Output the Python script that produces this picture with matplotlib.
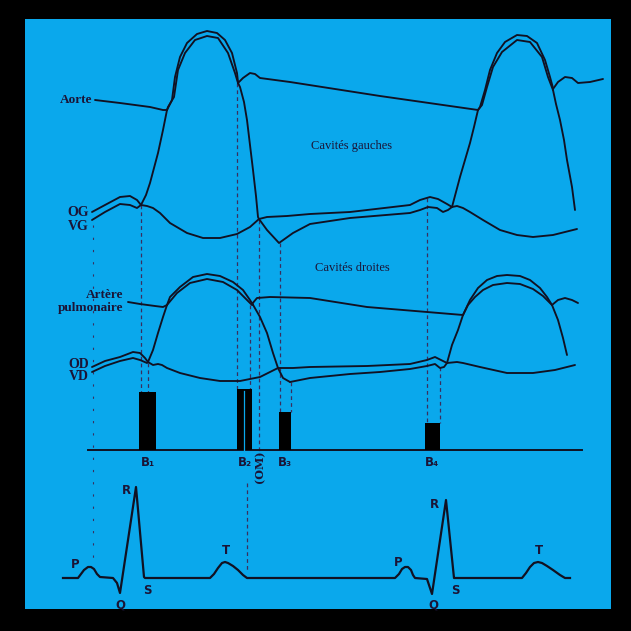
import matplotlib
matplotlib.use('Agg')
import matplotlib.pyplot as plt
from matplotlib.patches import Rectangle

# ---- traces, in picture coordinates (x right, y down) ----
# left heart
aorte_lead_x = [95, 120, 150, 163, 167]
aorte_lead_y = [100, 103, 107, 110, 110]
aorta1_outer_x = [167, 172, 175, 180, 187, 197, 207, 217, 225, 232, 237, 238]
aorta1_outer_y = [110, 100, 77, 57, 43, 34, 31, 33, 40, 53, 73, 82]
aorta1_inner_x = [167, 168, 174, 178, 185, 195, 207, 218, 228, 235, 238]
aorta1_inner_y = [110, 107, 97, 70, 53, 40, 36, 38, 53, 73, 83]
aorta_dia_x = [238, 243, 250, 255, 260, 290, 380, 478]
aorta_dia_y = [83, 78, 73, 74, 78, 82, 96, 110]
aorta2_outer_x = [478, 480, 485, 490, 497, 505, 517, 527, 537, 545, 550, 553]
aorta2_outer_y = [110, 107, 90, 70, 53, 42, 35, 36, 43, 60, 77, 88]
aorta2_inner_x = [478, 482, 487, 493, 502, 517, 530, 542, 548, 553]
aorta2_inner_y = [110, 105, 87, 67, 52, 40, 42, 57, 77, 90]
aorta2_tail_x = [553, 558, 565, 572, 578, 590, 603]
aorta2_tail_y = [89, 82, 77, 78, 83, 82, 79]

og_start_x = [92, 105, 120, 130, 137, 141]
og_start_y = [212, 205, 197, 196, 200, 205]
vg_start_x = [92, 105, 120, 130, 137, 141]
vg_start_y = [220, 212, 204, 205, 208, 205]
lv1_up_x = [141, 146, 150, 154, 158, 163, 167]
lv1_up_y = [205, 195, 183, 168, 153, 130, 110]
lv1_down_x = [238, 240, 244, 247, 250, 253, 256, 258, 259]
lv1_down_y = [83, 87, 102, 120, 145, 170, 196, 217, 219]
og1_x = [141, 147, 153, 160, 170, 187, 203, 220, 237, 250, 259]
og1_y = [205, 206, 208, 213, 223, 233, 238, 238, 234, 227, 219]
og_dia_x = [259, 267, 287, 310, 350, 410, 420, 430, 438, 447, 452]
og_dia_y = [219, 217, 216, 214, 212, 205, 200, 197, 199, 204, 207]
vg_dia_x = [259, 267, 279, 293, 310, 350, 410, 420, 428, 437, 443, 448, 452]
vg_dia_y = [219, 230, 243, 233, 224, 218, 213, 210, 207, 208, 212, 210, 207]
lv2_up_x = [452, 456, 460, 465, 470, 474, 478]
lv2_up_y = [207, 192, 177, 160, 143, 127, 110]
lv2_down_x = [553, 556, 560, 564, 567, 572, 575]
lv2_down_y = [90, 104, 120, 140, 160, 187, 210]
og2_x = [452, 457, 463, 470, 483, 500, 517, 533, 553, 577]
og2_y = [207, 206, 208, 212, 220, 230, 235, 237, 235, 229]

# right heart
pa_lead_x = [128, 140, 155, 163, 167]
pa_lead_y = [302, 304, 306, 307, 305]
pa1_outer_x = [167, 170, 180, 193, 207, 220, 233, 243, 250, 253]
pa1_outer_y = [305, 297, 287, 277, 274, 276, 282, 290, 300, 305]
pa1_inner_x = [167, 177, 190, 207, 223, 237, 247, 252]
pa1_inner_y = [305, 293, 283, 279, 282, 290, 300, 305]
pa_dia_x = [252, 257, 270, 310, 367, 463]
pa_dia_y = [304, 298, 297, 298, 307, 315]
pa2_outer_x = [463, 470, 478, 487, 497, 507, 520, 530, 540, 547, 552]
pa2_outer_y = [315, 300, 288, 280, 276, 275, 276, 280, 288, 297, 305]
pa2_inner_x = [463, 468, 475, 483, 493, 507, 520, 533, 543, 550, 552]
pa2_inner_y = [315, 305, 297, 290, 285, 283, 284, 289, 296, 303, 305]
pa2_tail_x = [552, 558, 565, 572, 578]
pa2_tail_y = [305, 300, 298, 300, 303]

od_start_x = [92, 105, 120, 133, 140, 145, 148]
od_start_y = [367, 361, 357, 352, 353, 358, 362]
vd_start_x = [92, 105, 120, 133, 140, 147, 148]
vd_start_y = [372, 366, 361, 358, 360, 363, 362]
rv1_up_x = [148, 153, 158, 163, 167]
rv1_up_y = [362, 350, 333, 317, 305]
rv1_down_x = [252, 260, 267, 273, 278, 283, 290]
rv1_down_y = [303, 317, 333, 353, 368, 378, 382]
od1_x = [148, 153, 158, 162, 167, 180, 200, 220, 240, 260, 278]
od1_y = [362, 365, 364, 365, 368, 373, 378, 381, 381, 377, 368]
od_dia_x = [278, 293, 310, 367, 410, 427, 435, 441, 447]
od_dia_y = [368, 368, 367, 366, 364, 360, 357, 360, 363]
vd_dia_x = [290, 300, 310, 350, 380, 410, 427, 435, 440, 444, 447]
vd_dia_y = [382, 380, 378, 374, 372, 369, 366, 364, 368, 367, 363]
rv2_up_x = [447, 452, 458, 463]
rv2_up_y = [363, 345, 330, 315]
rv2_down_x = [552, 558, 563, 567]
rv2_down_y = [305, 320, 338, 355]
od2_x = [447, 457, 463, 480, 507, 533, 555, 575]
od2_y = [363, 362, 363, 367, 373, 373, 370, 365]

# heart sounds (phonocardiogram bars)
sound_labels = ['B\u2081', 'B\u2082', 'B\u2083', 'B\u2084']
sound_left = [139, 237, 279, 425]
sound_right = [156, 252, 291, 440]
sound_top = [392, 389, 412, 423]
sound_base = 450
phono_x = [88, 582]

# ECG
ecg_x = [63, 78, 81, 84, 88, 91, 94, 97, 100, 113, 117, 120, 136, 144, 145,
         210, 214, 218, 222, 225, 228, 233, 238, 243, 247,
         395, 399, 402, 405, 408, 411, 413, 415, 427, 432, 446, 454, 455,
         522, 526, 530, 534, 538, 542, 547, 553, 560, 565, 570]
ecg_y = [578, 578, 574, 570, 567, 567, 569, 574, 577, 578, 583, 593, 487, 577, 578,
         578, 574, 568, 563, 562, 563, 566, 570, 575, 578,
         578, 574, 569, 567, 567, 570, 575, 578, 579, 594, 500, 578, 578,
         578, 573, 567, 563, 562, 563, 566, 570, 575, 578, 578]
ecg_labels = ['P', 'Q', 'R', 'S', 'T', 'P', 'Q', 'R', 'S', 'T']
ecg_label_x = [75, 120, 126, 147, 226, 398, 433, 434, 455, 539]
ecg_label_y = [565, 605, 490, 590, 550, 563, 605, 504, 591, 550]

# dashed timing lines: x, y start, y end
guide_x = [141, 148, 237, 250, 259, 280, 291, 427, 440, 247]
guide_y0 = [205, 363, 83, 305, 220, 243, 382, 198, 367, 483]
guide_y1 = [392, 392, 389, 389, 455, 412, 412, 423, 423, 572]

BLUE = '#0aa8ec'
INK = '#111122'
TXT = '#1b1436'

fig = plt.figure(figsize=(6.31, 6.31), dpi=100, facecolor='black')
ax = fig.add_axes([0, 0, 1, 1])
ax.set_xlim(0, 631)
ax.set_ylim(631, 0)
ax.axis('off')
ax.add_patch(Rectangle((25, 19), 586, 590, facecolor=BLUE, edgecolor='none', zorder=0))

traces = [
    (aorte_lead_x, aorte_lead_y), (aorta1_outer_x, aorta1_outer_y),
    (aorta1_inner_x, aorta1_inner_y), (aorta_dia_x, aorta_dia_y),
    (aorta2_outer_x, aorta2_outer_y), (aorta2_inner_x, aorta2_inner_y),
    (aorta2_tail_x, aorta2_tail_y), (og_start_x, og_start_y),
    (vg_start_x, vg_start_y), (lv1_up_x, lv1_up_y), (lv1_down_x, lv1_down_y),
    (og1_x, og1_y), (og_dia_x, og_dia_y), (vg_dia_x, vg_dia_y),
    (lv2_up_x, lv2_up_y), (lv2_down_x, lv2_down_y), (og2_x, og2_y),
    (pa_lead_x, pa_lead_y), (pa1_outer_x, pa1_outer_y), (pa1_inner_x, pa1_inner_y),
    (pa_dia_x, pa_dia_y), (pa2_outer_x, pa2_outer_y), (pa2_inner_x, pa2_inner_y),
    (pa2_tail_x, pa2_tail_y), (od_start_x, od_start_y), (vd_start_x, vd_start_y),
    (rv1_up_x, rv1_up_y), (rv1_down_x, rv1_down_y), (od1_x, od1_y),
    (od_dia_x, od_dia_y), (vd_dia_x, vd_dia_y), (rv2_up_x, rv2_up_y),
    (rv2_down_x, rv2_down_y), (od2_x, od2_y),
]
for xs, ys in traces:
    ax.plot(xs, ys, color=INK, lw=1.35, solid_capstyle='round',
            solid_joinstyle='round', zorder=3)

# timing guides
for gx, g0, g1 in zip(guide_x, guide_y0, guide_y1):
    ax.plot([gx, gx], [g0, g1], color='#3a2e5e', lw=0.9, dashes=(3, 2.5), zorder=2)
ax.plot([93, 93], [225, 565], color='#3a2e5e', lw=0.8, dashes=(2, 9), zorder=2)

# phonocardiogram
ax.plot(phono_x, [sound_base, sound_base], color=INK, lw=1.4, zorder=3)
heights = [t - sound_base for t in sound_top]
widths = [r - l for l, r in zip(sound_left, sound_right)]
ax.bar(sound_left, heights, width=widths, bottom=sound_base, align='edge',
       color='black', edgecolor='none', zorder=4)
ax.plot([244, 244], [391, 450], color=BLUE, lw=0.9, zorder=5)
for lab, l, r in zip(sound_labels, sound_left, sound_right):
    ax.text((l + r) / 2, 462, lab, ha='center', va='center', fontsize=8.5,
            color=TXT, fontweight='bold', family='DejaVu Sans')
ax.text(260, 467, '(OM)', rotation=90, ha='center', va='center', fontsize=8,
        color=TXT, family='DejaVu Serif', fontweight='bold')

# ECG
ax.plot(ecg_x, ecg_y, color=INK, lw=1.6, solid_joinstyle='round', zorder=3)
for lab, lx, ly in zip(ecg_labels, ecg_label_x, ecg_label_y):
    ax.text(lx, ly, lab, ha='center', va='center', fontsize=8.5, color=TXT,
            fontweight='bold', family='DejaVu Sans')

# trace labels
serif = dict(family='Liberation Serif', color=TXT, fontweight='bold')
ax.text(92, 100, 'Aorte', ha='right', va='center', fontsize=9.5, **serif)
ax.text(89, 212, 'OG', ha='right', va='center', fontsize=10, **serif)
ax.text(89, 226, 'VG', ha='right', va='center', fontsize=10, **serif)
ax.text(123, 295, 'Artère', ha='right', va='center', fontsize=9.5, **serif)
ax.text(123, 308, 'pulmonaire', ha='right', va='center', fontsize=9.5, **serif)
ax.text(89, 364, 'OD', ha='right', va='center', fontsize=10, **serif)
ax.text(89, 377, 'VD', ha='right', va='center', fontsize=10, **serif)
ax.text(352, 146, 'Cavités gauches', ha='center', va='center', fontsize=9,
        family='Liberation Serif', color=TXT)
ax.text(352, 268, 'Cavités droites', ha='center', va='center', fontsize=9,
        family='Liberation Serif', color=TXT)

fig.savefig('out.png', dpi=100, facecolor='black')
